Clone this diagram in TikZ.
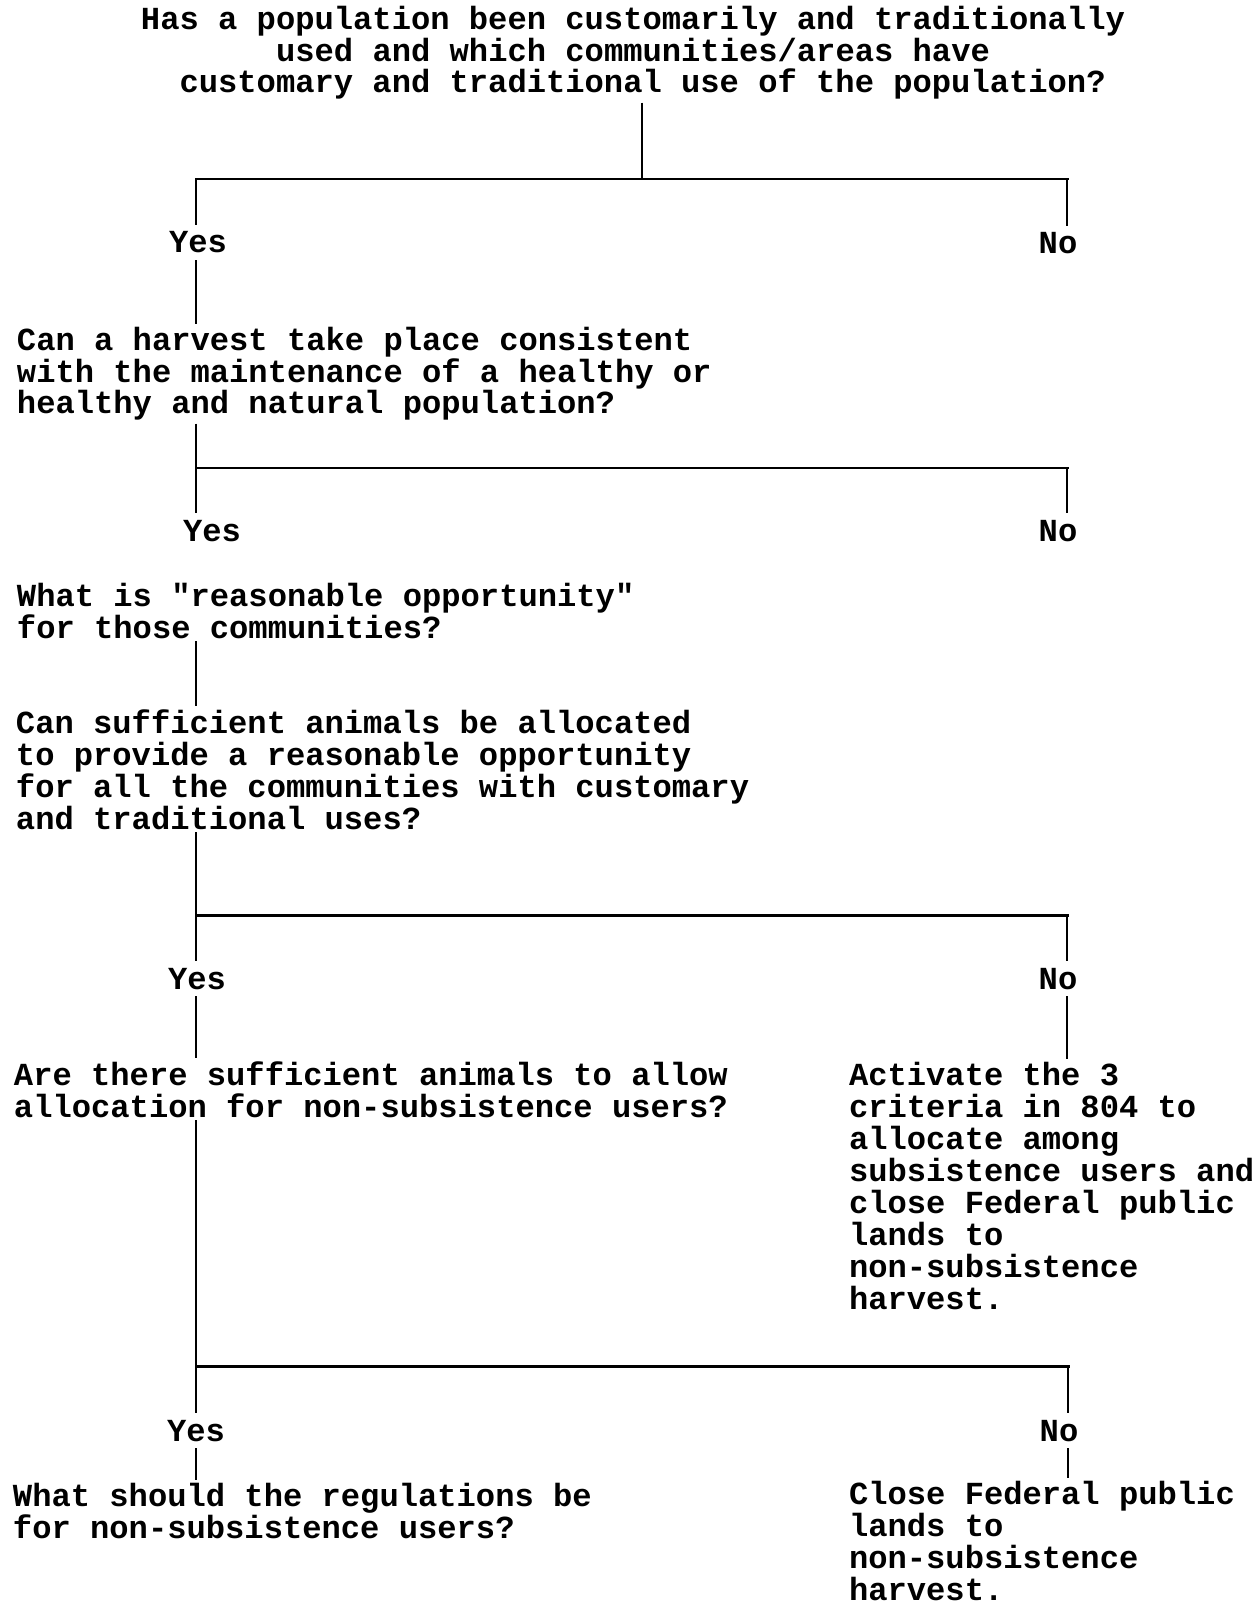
\documentclass[tikz,border=0pt]{standalone}
\usepackage{fontspec}
\setmainfont{Liberation Mono}[Ligatures=TeXOff]
\usetikzlibrary{calc}

\tikzset{
  qtext/.style = {inner sep=0pt, outer sep=1.7pt, align=left, anchor=base west,
    font=\bfseries\fontsize{18.3pt}{18.2pt}\selectfont},
  answer/.style = {inner sep=0pt, outer sep=4pt, anchor=base,
    font=\bfseries\fontsize{18.3pt}{18.2pt}\selectfont},
  stem/.style = {line width=1.15pt},
  bar/.style = {line width=1.7pt, line cap=rect}
}

\begin{document}
\begin{tikzpicture}[x=0.02cm, y=-0.02cm]
        \useasboundingbox (0,0) rectangle (1257,1604);
        % questions and outcomes (placed by the baseline of their last line)
        \node[qtext, align=center, anchor=base] (title) at (633,93)
          {Has a population been customarily and traditionally\\used and which communities/areas have\\\hphantom{x}customary and traditional use of the population?};
        \node[qtext] (q2) at (14,414) {Can a harvest take place consistent\\with the maintenance of a healthy or\\healthy and natural population?};
        \node[qtext] (q3) at (14,638) {What is "reasonable opportunity"\\for those communities?};
        \node[qtext] (q4) at (13,829) {Can sufficient animals be allocated\\to provide a reasonable opportunity\\for all the communities with customary\\and traditional uses?};
        \node[qtext] (q5) at (11,1117) {Are there sufficient animals to allow\\allocation for non-subsistence users?};
        \node[qtext] (act) at (846,1309) {Activate the 3\\criteria in 804 to\\allocate among\\subsistence users and\\close Federal public\\lands to\\non-subsistence\\harvest.};
        \node[qtext] (q6) at (10,1538) {What should the regulations be\\for non-subsistence users?};
        \node[qtext] (close) at (846,1600) {Close Federal public\\lands to\\non-subsistence\\harvest.};
        % yes / no
        \node[answer] (yes1) at (198,253) {Yes};
        \node[answer] (no1) at (1058,254) {No};
        \node[answer] (yes2) at (212,541) {Yes};
        \node[answer] (no2) at (1058,541) {No};
        \node[answer] (yes3) at (197,989) {Yes};
        \node[answer] (no3) at (1058,989) {No};
        \node[answer] (yes4) at (196,1441) {Yes};
        \node[answer] (no4) at (1059,1441) {No};
        % branch points
        \coordinate (t1) at (642,179);
        \coordinate (l1) at (196,179);
        \coordinate (r1) at (1067,179);
        \coordinate (l2) at (196,468);
        \coordinate (r2) at (1067,468);
        \coordinate (l3) at (196,915);
        \coordinate (r3) at (1067,915);
        \coordinate (l4) at (196,1366);
        \coordinate (r4) at (1068,1366);
        % first split
        \draw[stem] (title.south -| t1) -- (t1);
        \draw[bar] (l1) -- (r1);
        \draw[stem] (l1) -- (l1 |- yes1.north);
        \draw[stem] (r1) -- (r1 |- no1.north);
        \draw[stem] (l1 |- yes1.south) -- (l1 |- q2.north);
        % second split
        \draw[stem] (l2 |- q2.south) -- (l2);
        \draw[bar] (l2) -- (r2);
        \draw[stem] (l2) -- (l2 |- yes2.north);
        \draw[stem] (r2) -- (r2 |- no2.north);
        \draw[stem] (l2 |- q3.south) -- (l2 |- q4.north);
        % third split
        \draw[stem] (l3 |- q4.south) -- (l3);
        \draw[bar] (l3) -- (r3);
        \draw[stem] (l3) -- (l3 |- yes3.north);
        \draw[stem] (r3) -- (r3 |- no3.north);
        \draw[stem] (l3 |- yes3.south) -- (l3 |- q5.north);
        \draw[stem] (r3 |- no3.south) -- (r3 |- act.north);
        % fourth split
        \draw[stem] (l4 |- q5.south) -- (l4);
        \draw[bar] (l4) -- (r4);
        \draw[stem] (l4) -- (l4 |- yes4.north);
        \draw[stem] (r4) -- (r4 |- no4.north);
        \draw[stem] (l4 |- yes4.south) -- (l4 |- q6.north);
        \draw[stem] (r4 |- no4.south) -- (r4 |- close.north);
\end{tikzpicture}
\end{document}
